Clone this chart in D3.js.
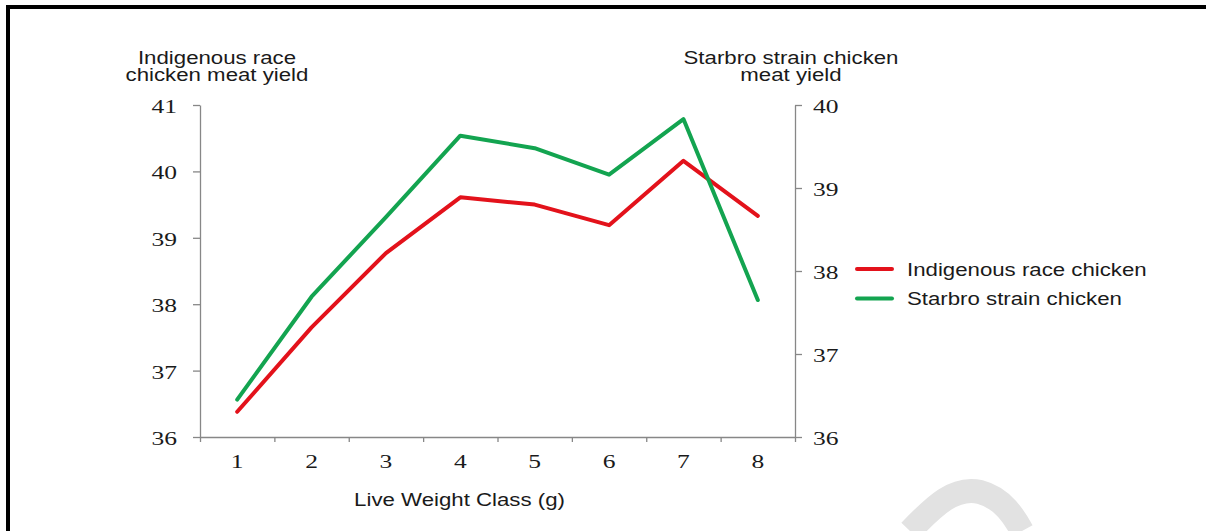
<!DOCTYPE html>
<html><head><meta charset="utf-8">
<script src="https://cdn.jsdelivr.net/npm/d3@7"></script>
<style>html,body{margin:0;padding:0;background:#fff}</style>
</head><body><svg id="c" width="1206" height="531"></svg>
<script>
const categories = ["1","2","3","4","5","6","7","8"];
const indigenous = [36.38, 37.65, 38.77, 39.61, 39.50, 39.19, 40.16, 39.33];
const starbro    = [36.45, 37.69, 38.65, 39.63, 39.48, 39.16, 39.83, 37.65];
const leftTicks  = [36, 37, 38, 39, 40, 41];
const rightTicks = [36, 37, 38, 39, 40];
const seriesNames = ["Indigenous race chicken", "Starbro strain chicken"];
const leftTitle  = ["Indigenous race", "chicken meat yield"];
const rightTitle = ["Starbro strain chicken", "meat yield"];
const xTitle = "Live Weight Class (g)";

const RED = "#e3121b", GREEN = "#13a450", AXIS = "#878787";
const SANS = "'Liberation Sans', Arial, sans-serif";
const SERIF = "'Liberation Serif', 'Times New Roman', serif";
const SANS_SIZE = 17.5, SANS_SX = 1.27;
const SERIF_SIZE = 18.5, SERIF_SX = 1.38;

const svg = d3.select("#c");

// frame (left and top edges visible)
svg.append("rect").attr("x", 8).attr("y", 7).attr("width", 1300).attr("height", 600)
  .attr("fill", "none").attr("stroke", "#000").attr("stroke-width", 4);

// faint watermark fragment
svg.append("path")
  .attr("d", "M 910 531 C 935 505, 955 486, 980 492 C 1003 498, 1015 518, 1022 531")
  .attr("fill", "none").attr("stroke", "#e2e2e2").attr("stroke-width", 24);

const x = d3.scaleBand().domain(categories).range([200, 795]);
const yL = d3.scaleLinear().domain([36, 41]).range([437, 105]);
const yR = d3.scaleLinear().domain([36, 40]).range([437, 105]);

function stext(g, px, py, txt, anchor, fam, size, sx) {
  return g.append("text")
    .attr("transform", `translate(${px},${py}) scale(${sx},1)`)
    .attr("text-anchor", anchor).attr("font-family", fam).attr("font-size", size)
    .attr("fill", "#1a1a1a").text(txt);
}

function styleAxis(g) {
  g.selectAll("path.domain").attr("stroke", AXIS).attr("stroke-width", 1.3);
  g.selectAll(".tick line").attr("stroke", AXIS).attr("stroke-width", 1.3);
}

// left axis
const gL = svg.append("g").attr("transform", "translate(200,0)")
  .call(d3.axisLeft(yL).tickValues(leftTicks).tickSize(7).tickSizeOuter(0).tickFormat(""));
styleAxis(gL);
leftTicks.forEach(t => stext(gL, -23, yL(t) + 8, String(t), "end", SERIF, SERIF_SIZE, SERIF_SX));

// right axis
const gR = svg.append("g").attr("transform", "translate(795,0)")
  .call(d3.axisRight(yR).tickValues(rightTicks).tickSize(7).tickSizeOuter(0).tickFormat(""));
styleAxis(gR);
rightTicks.forEach(t => stext(gR, 18, yR(t) + 8, String(t), "start", SERIF, SERIF_SIZE, SERIF_SX));

// x axis: ticks at category boundaries, labels at centres
const bounds = categories.map(c => x(c)).concat([x.range()[1]]);
const xb = d3.scaleLinear().domain([200, 795]).range([200, 795]);
const gX = svg.append("g").attr("transform", "translate(0,437)")
  .call(d3.axisBottom(xb).tickValues(bounds).tickSize(5).tickSizeOuter(0).tickFormat(""));
styleAxis(gX);
categories.forEach(c => stext(gX, x(c) + x.bandwidth() / 2, 31, c, "middle", SERIF, SERIF_SIZE, SERIF_SX));

// lines
const lineL = d3.line().x((d, i) => x(categories[i]) + x.bandwidth() / 2).y(d => yL(d));
const lineR = d3.line().x((d, i) => x(categories[i]) + x.bandwidth() / 2).y(d => yR(d));
svg.append("path").datum(indigenous).attr("d", lineL).attr("fill", "none")
  .attr("stroke", RED).attr("stroke-width", 4).attr("stroke-linejoin", "round").attr("stroke-linecap", "round");
svg.append("path").datum(starbro).attr("d", lineR).attr("fill", "none")
  .attr("stroke", GREEN).attr("stroke-width", 4).attr("stroke-linejoin", "round").attr("stroke-linecap", "round");

// titles
stext(svg, 217, 63.5, leftTitle[0], "middle", SANS, SANS_SIZE, SANS_SX);
stext(svg, 217, 81, leftTitle[1], "middle", SANS, SANS_SIZE, SANS_SX);
stext(svg, 791, 63.5, rightTitle[0], "middle", SANS, SANS_SIZE, SANS_SX);
stext(svg, 791, 81, rightTitle[1], "middle", SANS, SANS_SIZE, SANS_SX);
stext(svg, 459.5, 506, xTitle, "middle", SANS, SANS_SIZE, SANS_SX);

// legend
const legend = svg.append("g");
[RED, GREEN].forEach((col, i) => {
  const ly = 269 + i * 29.5;
  legend.append("line").attr("x1", 857).attr("x2", 892).attr("y1", ly).attr("y2", ly)
    .attr("stroke", col).attr("stroke-width", 4).attr("stroke-linecap", "round");
  stext(legend, 907, ly + 6.5, seriesNames[i], "start", SANS, SANS_SIZE, SANS_SX);
});
</script></body></html>
